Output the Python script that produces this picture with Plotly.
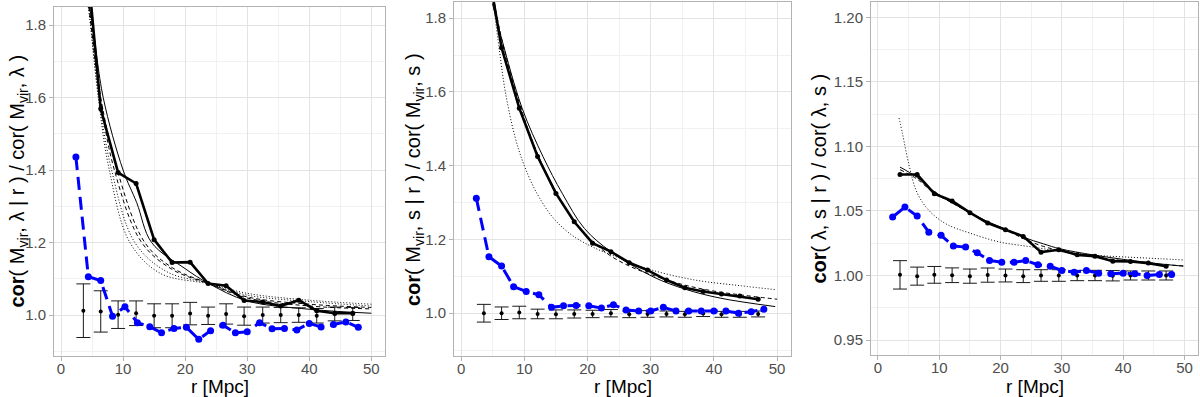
import plotly.graph_objects as go

# radial bins (Mpc) for the shuffled/binned measurements
r_bins = [3.6, 6.4, 9.2, 12.1, 15.0, 17.9, 20.8, 23.7, 26.6, 29.5, 32.5, 35.4, 38.3, 41.2, 44.1, 47.0]
r_blue = [2.4, 4.4, 6.4, 8.3, 10.3, 12.3, 14.3, 16.2, 18.2, 20.2, 22.2, 24.1,
          26.1, 28.1, 30.0, 32.0, 34.0, 36.0, 38.0, 40.0, 41.9, 43.9, 45.9, 47.9]

# ---- panel 1: cor(Mvir, lambda | r) / cor(Mvir, lambda)
p1_thick = [2.09, 1.569, 1.393, 1.363, 1.208, 1.145, 1.146, 1.087, 1.081, 1.040, 1.036, 1.025, 1.041, 1.012, 1.005, 1.005]
p1_mid = [1.012, 1.010, 1.001, 1.005, 0.998, 0.998, 1.004, 0.998, 1.003, 0.997, 1.000, 1.000, 1.000, 0.998, 1.003, 1.003]
p1_err = [0.074, 0.057, 0.038, 0.034, 0.033, 0.033, 0.031, 0.024, 0.028, 0.025, 0.022, 0.021, 0.020, 0.020, 0.019, 0.018]
p1_blue = [1.436, 1.106, 1.095, 0.997, 1.023, 0.979, 0.968, 0.951, 0.963, 0.966, 0.933, 0.957,
           0.972, 0.951, 0.954, 0.979, 0.962, 0.963, 0.959, 0.977, 0.967, 0.974, 0.981, 0.966]
p1_solid_x = [4.6, 5.1, 6.8, 10.0, 12.2, 14.6, 20.0, 23.7, 30.0, 40.0, 50.0]
p1_solid_y = [1.85, 1.80, 1.60, 1.40, 1.31, 1.20, 1.128, 1.088, 1.039, 1.016, 1.005]
p1_dash1_x = [4.5, 5.0, 6.4, 9.06, 13.5, 18.0, 23.7, 30.0, 40.0, 50.0]
p1_dash1_y = [1.85, 1.79, 1.60, 1.40, 1.20, 1.13, 1.088, 1.050, 1.030, 1.021]
p1_dash2_x = [4.5, 4.9, 6.3, 8.6, 13.0, 18.0, 23.7, 30.0, 40.0, 50.0]
p1_dash2_y = [1.85, 1.79, 1.60, 1.40, 1.20, 1.125, 1.087, 1.047, 1.025, 1.017]
p1_dot1_x = [4.5, 4.85, 6.1, 8.15, 11.9, 17.0, 23.7, 30.0, 40.0, 50.0]
p1_dot1_y = [1.85, 1.79, 1.60, 1.40, 1.20, 1.12, 1.088, 1.060, 1.041, 1.030]
p1_dot2_x = [4.4, 4.8, 6.0, 7.78, 11.1, 16.0, 23.7, 30.0, 40.0, 50.0]
p1_dot2_y = [1.85, 1.79, 1.60, 1.40, 1.20, 1.115, 1.086, 1.055, 1.037, 1.025]

# ---- panel 2: cor(Mvir, s | r) / cor(Mvir, s)
p2_thick = [2.0, 1.72, 1.556, 1.425, 1.325, 1.248, 1.190, 1.167, 1.137, 1.117, 1.090, 1.069, 1.059, 1.052, 1.047, 1.038]
p2_mid = [1.000, 1.000, 1.002, 0.998, 0.997, 0.998, 0.998, 1.000, 0.997, 0.998, 0.998, 0.997, 0.999, 0.997, 0.997, 0.998]
p2_err = [0.024, 0.017, 0.017, 0.013, 0.012, 0.011, 0.010, 0.010, 0.009, 0.009, 0.008, 0.008, 0.008, 0.008, 0.008, 0.008]
p2_blue = [1.312, 1.153, 1.128, 1.072, 1.059, 1.050, 1.016, 1.020, 1.021, 1.020, 1.014, 1.023,
           1.009, 1.006, 1.006, 1.016, 1.006, 1.006, 1.006, 1.006, 1.006, 1.000, 1.004, 1.011]
p2_solid_x = [4.95, 6.4, 9.65, 12.95, 16.0, 19.5, 23.7, 30.35, 35.5, 41.0, 49.7]
p2_solid_y = [1.84, 1.745, 1.556, 1.425, 1.325, 1.23, 1.167, 1.099, 1.065, 1.041, 1.018]
p2_dash_x = [5.3, 6.4, 9.3, 12.1, 15.0, 17.9, 20.8, 23.7, 26.6, 29.5, 35.0, 40.0, 45.0, 50.0]
p2_dash_y = [1.84, 1.745, 1.565, 1.432, 1.330, 1.250, 1.195, 1.155, 1.128, 1.108, 1.078, 1.060, 1.048, 1.038]
p2_dot_x = [5.1, 6.0, 7.0, 8.5, 10.0, 12.0, 14.5, 17.5, 21.0, 25.0, 30.0, 37.0, 44.0, 49.7]
p2_dot_y = [1.84, 1.72, 1.60, 1.48, 1.40, 1.325, 1.26, 1.212, 1.178, 1.150, 1.118, 1.090, 1.075, 1.064]

# ---- panel 3: cor(lambda, s | r) / cor(lambda, s)
p3_thick = [1.0782, 1.0782, 1.0634, 1.0577, 1.0487, 1.0406, 1.0355, 1.0303, 1.0181, 1.0199, 1.0160, 1.0150, 1.0111, 1.0109, 1.0096, 1.0072]
p3_mid = [1.0005, 0.9995, 1.0005, 1.0002, 0.9995, 1.0003, 1.0, 0.9995, 1.0, 1.0, 1.0, 1.0, 0.9998, 1.0, 1.0, 1.0]
p3_err = [0.011, 0.007, 0.0065, 0.0057, 0.0055, 0.0055, 0.005, 0.005, 0.0045, 0.0045, 0.004, 0.004, 0.004, 0.0035, 0.0035, 0.0035]
p3_blue = [1.0453, 1.0530, 1.0460, 1.0336, 1.0311, 1.0228, 1.0220, 1.0176, 1.0116, 1.0103, 1.0103, 1.0116,
           1.0083, 1.0072, 1.0039, 1.0026, 1.0039, 1.0018, 1.0013, 1.0018, 1.0013, 1.0000, 1.0008, 1.0008]
p3_solid_x = [3.6, 6.3, 8.9, 12.0, 14.9, 18.0, 21.0, 23.7, 27.0, 29.7, 35.0, 40.0, 45.0, 49.8]
p3_solid_y = [1.084, 1.0763, 1.066, 1.0565, 1.049, 1.0415, 1.0355, 1.0297, 1.0245, 1.0207, 1.0160, 1.0125, 1.0095, 1.0072]
p3_dash_x = [3.6, 6.3, 9.0, 12.0, 15.0, 18.0, 21.0, 24.0, 27.0, 30.0, 35.0, 40.0, 45.0, 49.8]
p3_dash_y = [1.082, 1.075, 1.0645, 1.0565, 1.0485, 1.041, 1.035, 1.028, 1.0225, 1.019, 1.0145, 1.0115, 1.009, 1.0075]
p3_dot_x = [3.45, 4.0, 5.1, 6.4, 8.4, 11.1, 14.9, 19.8, 25.3, 30.8, 36.0, 41.7, 46.0, 49.9]
p3_dot_y = [1.122, 1.110, 1.085, 1.064, 1.050, 1.040, 1.033, 1.026, 1.022, 1.018, 1.0155, 1.014, 1.013, 1.012]

W, H = 1200, 397
FONT = "Liberation Sans, Arial, sans-serif"

panels = [
    dict(box=(54, 385, 7, 356), yr=[0.887, 1.85], ydt=0.2, yfmt=".1f",
         thick=p1_thick, mid=p1_mid, err=p1_err, blue=p1_blue,
         curves=[(p1_dot2_x, p1_dot2_y, "1px,2px"), (p1_dot1_x, p1_dot1_y, "1px,2px"),
                 (p1_dash2_x, p1_dash2_y, "4px,3px"), (p1_dash1_x, p1_dash1_y, "4px,3px"),
                 (p1_solid_x, p1_solid_y, "solid")],
         title="<b>cor</b>( M<sub>vir</sub>, λ | r ) / cor( M<sub>vir</sub>, λ )", tx=18),
    dict(box=(454, 791, 2, 356), yr=[0.884, 1.844], ydt=0.2, yfmt=".1f",
         thick=p2_thick, mid=p2_mid, err=p2_err, blue=p2_blue,
         curves=[(p2_dot_x, p2_dot_y, "1px,2px"), (p2_dash_x, p2_dash_y, "4px,3px"),
                 (p2_solid_x, p2_solid_y, "solid")],
         title="<b>cor</b>( M<sub>vir</sub>, s | r ) / cor( M<sub>vir</sub>, s )", tx=414),
    dict(box=(871, 1198, 2, 355), yr=[0.9384, 1.2119], ydt=0.05, yfmt=".2f",
         thick=p3_thick, mid=p3_mid, err=p3_err, blue=p3_blue,
         curves=[(p3_dot_x, p3_dot_y, "1px,2px"), (p3_dash_x, p3_dash_y, "4px,3px"),
                 (p3_solid_x, p3_solid_y, "solid")],
         title="<b>cor</b>( λ, s | r ) / cor( λ, s )", tx=818),
]

fig = go.Figure()
annotations = []

for i, p in enumerate(panels, start=1):
    xa = "x" if i == 1 else f"x{i}"
    ya = "y" if i == 1 else f"y{i}"
    x0, x1, top, bot = p["box"]

    fig.add_trace(go.Scatter(x=r_bins, y=p["mid"], mode="markers", xaxis=xa, yaxis=ya,
                             marker=dict(color="black", size=4),
                             error_y=dict(type="data", array=p["err"], color="#1a1a1a",
                                          thickness=1, width=7)))
    for cx, cy, dash in p["curves"]:
        fig.add_trace(go.Scatter(x=cx, y=cy, mode="lines", xaxis=xa, yaxis=ya,
                                 line=dict(color="black", width=1, dash=dash, shape="spline")))
    fig.add_trace(go.Scatter(x=r_bins, y=p["thick"], mode="lines+markers", xaxis=xa, yaxis=ya,
                             line=dict(color="black", width=2.6),
                             marker=dict(color="black", size=5)))
    fig.add_trace(go.Scatter(x=r_blue, y=p["blue"], mode="lines+markers", xaxis=xa, yaxis=ya,
                             line=dict(color="#0000FF", width=3, dash="13px,7px"),
                             marker=dict(color="#0000FF", size=7)))

    common = dict(showline=True, linecolor="#B3B3B3", linewidth=1, mirror=True,
                  ticks="outside", ticklen=4, tickcolor="#B3B3B3",
                  gridcolor="#E3E3E3", gridwidth=1, zeroline=False,
                  tickfont=dict(family=FONT, size=15, color="#4D4D4D"))
    fig.layout[f"xaxis{'' if i == 1 else i}"] = dict(
        common, domain=[x0 / W, x1 / W], anchor=ya, range=[-1.13, 52.2],
        tick0=0, dtick=10, ticklabelstandoff=-5,
        minor=dict(dtick=5, showgrid=True, gridcolor="#F1F1F1", gridwidth=0.6))
    fig.layout[f"yaxis{'' if i == 1 else i}"] = dict(
        common, domain=[1 - bot / H, 1 - top / H], anchor=xa, range=p["yr"],
        tick0=0, dtick=p["ydt"], tickformat=p["yfmt"],
        minor=dict(dtick=p["ydt"] / 2, showgrid=True, gridcolor="#F1F1F1", gridwidth=0.6))

    annotations.append(dict(text=p["title"], xref="paper", yref="paper",
                            x=p["tx"] / W, y=1 - (top + bot) / 2 / H, textangle=-90,
                            showarrow=False, xanchor="center", yanchor="middle",
                            font=dict(family=FONT, size=20, color="black")))
    annotations.append(dict(text="r [Mpc]", xref="paper", yref="paper",
                            x=(x0 + x1) / 2 / W, y=1 - 386 / H, showarrow=False,
                            xanchor="center", yanchor="middle",
                            font=dict(family=FONT, size=19, color="black")))

fig.update_layout(width=W, height=H, margin=dict(l=0, r=0, t=0, b=0),
                  plot_bgcolor="white", paper_bgcolor="white", showlegend=False,
                  annotations=annotations)

fig.write_html("out.html", config={"displayModeBar": False},
               post_script="document.body.style.margin='0';")
